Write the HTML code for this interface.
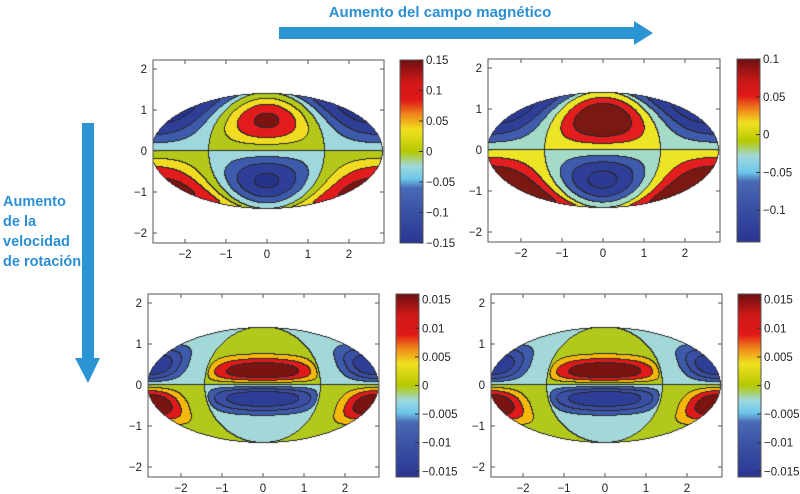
<!DOCTYPE html>
<html><head><meta charset="utf-8">
<style>
html,body{margin:0;padding:0;background:#fff;}
#wrap{position:relative;width:800px;height:494px;overflow:hidden;font-family:"Liberation Sans",sans-serif;}
canvas,svg{position:absolute;left:0;top:0;}
</style></head>
<body>
<div id="wrap">
<canvas id="cv" width="800" height="494"></canvas>
<svg id="sv" width="800" height="494" viewBox="0 0 800 494">
  <defs>
    <linearGradient id="jetA" x1="0" y1="1" x2="0" y2="0">
      <stop offset="0" stop-color="#2a3590"/><stop offset="0.17" stop-color="#3a52a5"/>
      <stop offset="0.3" stop-color="#4a6ab5"/><stop offset="0.35" stop-color="#6cc6ea"/>
      <stop offset="0.42" stop-color="#a0d8dc"/><stop offset="0.5" stop-color="#b5c900"/>
      <stop offset="0.62" stop-color="#f0e020"/><stop offset="0.7" stop-color="#f08a1a"/>
      <stop offset="0.78" stop-color="#e01818"/><stop offset="0.88" stop-color="#d01818"/>
      <stop offset="1" stop-color="#6e1010"/>
    </linearGradient>
    <linearGradient id="jetB" x1="0" y1="1" x2="0" y2="0">
      <stop offset="0" stop-color="#2a3590"/><stop offset="0.2" stop-color="#3a52a5"/>
      <stop offset="0.33" stop-color="#4a6ab5"/><stop offset="0.38" stop-color="#6cc6ea"/>
      <stop offset="0.47" stop-color="#a0d8dc"/><stop offset="0.55" stop-color="#b5c900"/>
      <stop offset="0.65" stop-color="#f0e020"/><stop offset="0.72" stop-color="#f08a1a"/>
      <stop offset="0.8" stop-color="#e01818"/><stop offset="0.88" stop-color="#c81818"/>
      <stop offset="1" stop-color="#6e1010"/>
    </linearGradient>
  </defs>
  <text x="440" y="17" text-anchor="middle" font-size="15" fill="#2b8fd3" font-weight="bold">Aumento del campo magnético</text>
  <polygon points="279,27 634,27 634,21 653,33 634,45 634,39 279,39" fill="#2b95d4"/>
  <polygon points="82,123 94,123 94,358 100,358 88,383 75,358 82,358" fill="#2b95d4"/>
  <g font-size="14.5" fill="#2b8fd3" font-weight="bold">
    <text x="3" y="206">Aumento</text><text x="3" y="226">de la</text>
    <text x="3" y="246">velocidad</text><text x="3" y="266">de rotación</text>
  </g>
  <g id="axesLayer"></g>
</svg>
</div>
<script>
// ---- data ----
const panelNames = ["top-left","top-right","bottom-left","bottom-right"];
const amplitudes = [0.13, 0.112, 0.0165, 0.0165];
const latExponents = [1.5, 1.5, 10, 10];
const outerLatExponents = [0.8, 0.8, 5, 5];
const centerLonPower = [1, 1, 0.5, 0.5];
const outerLonPower = [1, 1, 2.3, 2.3];
const levelsTL = [-0.12,-0.08,-0.04,0,0.04,0.08,0.12];
const levelsTR = [-0.1,-0.066,-0.033,0,0.035,0.07];
const levelsBot = [-0.012,-0.008,-0.004,0,0.004,0.008,0.012];
const colorsTL = ["#26338a","#2f3f98","#3d5aab","#9ed8dc","#b4c81a","#f2dc22","#e21c1c","#7c1512"];
const colorsTR = ["#2b3a92","#2f3f98","#3f5bab","#a3dac8","#ece424","#e41e1e","#7a1812"];
const colorsBot = ["#2e3e96","#3a4fa3","#3d5aab","#a3d8d8","#b2c81a","#f5b80a","#e01a1a","#7a1410"];
const cbRangeMin = [-0.15,-0.142,-0.016,-0.016];
const cbRangeMax = [0.15,0.1,0.016,0.016];
const cbTicksTL = [-0.15,-0.1,-0.05,0,0.05,0.1,0.15];
const cbTicksTR = [-0.1,-0.05,0,0.05,0.1];
const cbTicksBot = [-0.015,-0.01,-0.005,0,0.005,0.01,0.015];
const cbTickLabelsTL = ["\u22120.15","\u22120.1","\u22120.05","0","0.05","0.1","0.15"];
const cbTickLabelsTR = ["\u22120.1","\u22120.05","0","0.05","0.1"];
const cbTickLabelsBot = ["\u22120.015","\u22120.01","\u22120.005","0","0.005","0.01","0.015"];
const axisTicks = [-2,-1,0,1,2];
const axisTickLabels = ["\u22122","\u22121","0","1","2"];
// ---- layout ----
const layout = [
  {x0:153,x1:384,y0:60,y1:243,cx:267,cy:151,cbx:400,grad:"jetA"},
  {x0:488,x1:720,y0:59,y1:242,cx:603,cy:150,cbx:737,grad:"jetB"},
  {x0:148,x1:379,y0:294,y1:477,cx:263,cy:385,cbx:396,grad:"jetA"},
  {x0:491,x1:722,y0:294,y1:477,cx:605,cy:385,cbx:738,grad:"jetA"}
];
const levelSets=[levelsTL,levelsTR,levelsBot,levelsBot];
const colorSets=[colorsTL,colorsTR,colorsBot,colorsBot];
const tickSets=[cbTicksTL,cbTicksTR,cbTicksBot,cbTicksBot];
const tickLabelSets=[cbTickLabelsTL,cbTickLabelsTR,cbTickLabelsBot,cbTickLabelsBot];
const S=41;
const ctx=document.getElementById('cv').getContext('2d');
function hex(c){return [parseInt(c.substr(1,2),16),parseInt(c.substr(3,2),16),parseInt(c.substr(5,2),16)];}
function latProfile(phi,n){
  const pm=Math.atan(Math.sqrt(1/n));
  const norm=Math.sin(pm)*Math.pow(Math.cos(pm),n);
  return Math.sin(phi)*Math.pow(Math.cos(phi),n)/norm;
}
function field(p,x,y){
  const st=y/Math.SQRT2; if(Math.abs(st)>1) return null;
  const t=Math.asin(st);
  const sphi=(2*t+Math.sin(2*t))/Math.PI;
  const phi=Math.asin(Math.max(-1,Math.min(1,sphi)));
  const ct=Math.cos(t); if(ct<1e-6) return null;
  const lam=Math.PI*x/(2*Math.SQRT2*ct);
  if(Math.abs(lam)>Math.PI) return null;
  const c=Math.cos(lam);
  if(c>=0) return amplitudes[p]*latProfile(phi,latExponents[p])*Math.pow(c,centerLonPower[p]);
  return -amplitudes[p]*latProfile(phi,outerLatExponents[p])*Math.pow(-c,outerLonPower[p]);
}
function band(v,lv){let i=0;while(i<lv.length&&v>lv[i])i++;return i;}
const img=ctx.createImageData(800,494);
for(let i=0;i<img.data.length;i++)img.data[i]=255;
for(let p=0;p<4;p++){
  const L=layout[p],lv=levelSets[p],cols=colorSets[p].map(hex);
  const W=L.x1-L.x0,H=L.y1-L.y0;const B=[];
  for(let j=0;j<H;j++){B.push([]);for(let i=0;i<W;i++){
    const x=(L.x0+i+0.5-L.cx)/S,y=-(L.y0+j+0.5-L.cy)/S;
    const v=field(p,x,y);B[j].push(v===null?-1:band(v,lv));}}
  for(let j=0;j<H;j++)for(let i=0;i<W;i++){
    const b=B[j][i];if(b<0)continue;
    let edge=false;
    if(i+1<W&&B[j][i+1]!==b)edge=true;
    if(j+1<H&&B[j+1][i]!==b)edge=true;
    if(i>0&&B[j][i-1]<0)edge=true;
    if(j>0&&B[j-1][i]<0)edge=true;
    const k=((L.y0+j)*800+L.x0+i)*4;
    const c=edge?[40,40,45]:cols[b];
    img.data[k]=c[0];img.data[k+1]=c[1];img.data[k+2]=c[2];img.data[k+3]=255;
  }
}
ctx.putImageData(img,0,0);
// ---- axes ----
const NS="http://www.w3.org/2000/svg";
const layer=document.getElementById('axesLayer');
function mk(tag,attrs,parent){const e=document.createElementNS(NS,tag);for(const k in attrs)e.setAttribute(k,attrs[k]);parent.appendChild(e);return e;}
for(let p=0;p<4;p++){
  const L=layout[p];
  const g=mk('g',{},layer);
  
  
  const box=mk('rect',{x:L.x0,y:L.y0,width:L.x1-L.x0,height:L.y1-L.y0,fill:'none',stroke:'#555','stroke-width':1},g);
  
  
  for(let k=0;k<axisTicks.length;k++){
    const tx=L.cx+axisTicks[k]*S, ty=L.cy-axisTicks[k]*S;
    mk('line',{x1:tx,y1:L.y1,x2:tx,y2:L.y1-4,stroke:'#555'},g);
    mk('line',{x1:tx,y1:L.y0,x2:tx,y2:L.y0+4,stroke:'#555'},g);
    mk('line',{x1:L.x0,y1:ty,x2:L.x0+4,y2:ty,stroke:'#555'},g);
    mk('line',{x1:L.x1,y1:ty,x2:L.x1-4,y2:ty,stroke:'#555'},g);
    const xl=mk('text',{x:tx,y:L.y1+15,'text-anchor':'middle','font-size':11.5,fill:'#222'},g);
    xl.textContent=axisTickLabels[k];
    
    
    const yl=mk('text',{x:L.x0-6,y:ty+4,'text-anchor':'end','font-size':11.5,fill:'#222'},g);
    yl.textContent=axisTickLabels[k];
    
    
  }
  const cb=mk('rect',{x:L.cbx,y:L.y0,width:23,height:L.y1-L.y0,fill:'url(#'+L.grad+')',stroke:'#555','stroke-width':1},g);
  
  
  const mn=cbRangeMin[p],mx=cbRangeMax[p];
  const ticks=tickSets[p],labs=tickLabelSets[p];
  for(let k=0;k<ticks.length;k++){
    const yy=L.y1-(ticks[k]-mn)/(mx-mn)*(L.y1-L.y0);
    mk('line',{x1:L.cbx+23,y1:yy,x2:L.cbx+19,y2:yy,stroke:'#333'},g);
    const t=mk('text',{x:L.cbx+26,y:yy+4,'font-size':11.5,fill:'#222'},g);
    t.textContent=labs[k];
    
    
  }
}
</script>
</body></html>
